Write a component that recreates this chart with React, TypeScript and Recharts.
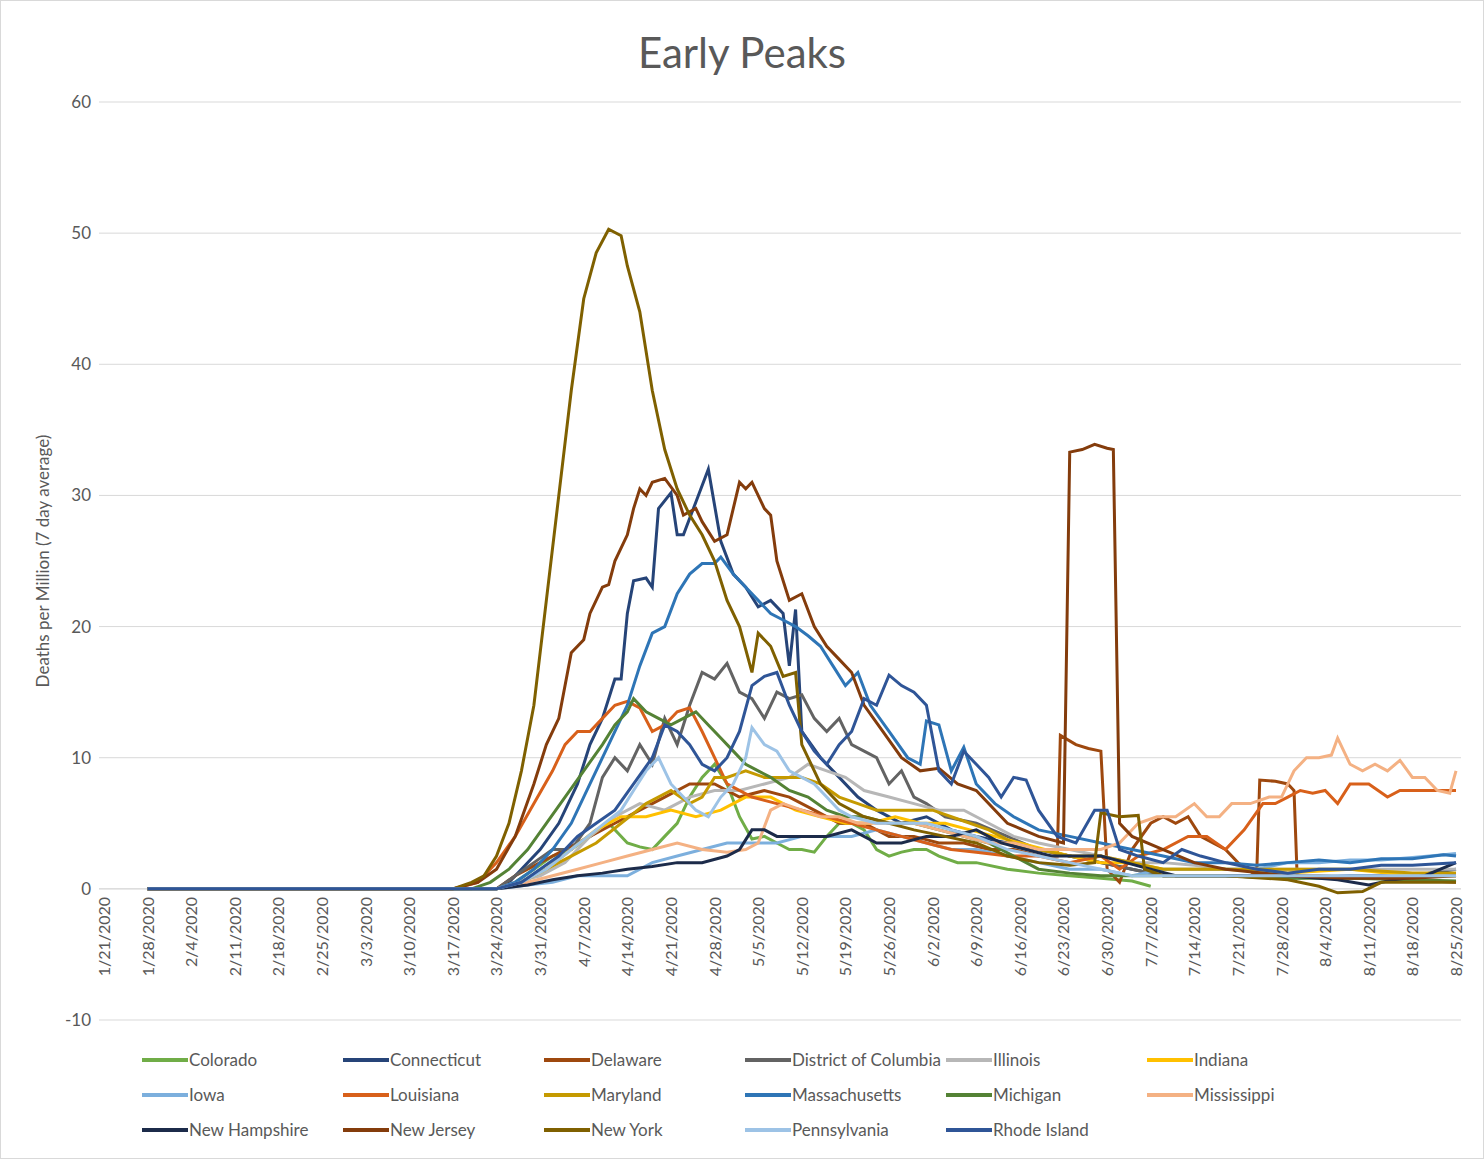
import React from "react";
import { LineChart, Line, XAxis, YAxis, CartesianGrid, ReferenceLine } from "recharts";

if (typeof document !== "undefined") document.body.style.margin = "0";

type P = [number, number];
const colorado: P[] = [[7,0],[63,0],[66,0.5],[69,1.5],[72,2.5],[75,3],[78,4],[81,5],[84,3.5],[86,3.2],[88,3],[90,4],[92,5],[94,7],[96,8.5],[98,9.5],[100,8],[102,5.5],[104,3.8],[106,4],[108,3.5],[110,3],[112,3],[114,2.8],[116,4],[118,5],[120,5],[122,4.5],[124,3],[126,2.5],[128,2.8],[130,3],[132,3],[134,2.5],[137,2],[140,2],[145,1.5],[150,1.2],[155,1],[160,0.8],[165,0.6],[168,0.2]];
const connecticut: P[] = [[7,0],[63,0],[65,0.5],[67,1.5],[70,3],[73,5],[76,8],[78,11],[80,13],[82,16],[83,16],[84,21],[85,23.5],[87,23.7],[88,23],[89,29],[91,30.2],[92,27],[93,27],[95,29.5],[97,32],[99,26.5],[101,24],[103,23],[105,21.5],[107,22],[109,21],[110,17],[111,21.3],[112,12],[115,10],[118,8.5],[121,7],[124,6],[128,5],[132,5.5],[136,4.5],[140,4],[145,3.5],[150,3],[155,2.5],[160,2],[165,1.5],[170,1],[180,1],[190,0.8],[200,1],[210,1],[217,1.5]];
const delaware: P[] = [[7,0],[63,0],[66,1],[70,2],[74,3],[78,4],[82,5],[86,6],[90,7],[94,8],[98,8],[102,7],[106,7.5],[110,7],[114,6],[118,5],[122,5],[126,4],[130,4],[134,3.5],[138,3.5],[142,3],[146,3],[150,2.5],[153,2.5],[153.5,11.7],[156,11],[158,10.7],[160,10.5],[161,1.5],[163,0.5],[165,3],[168,5],[170,5.5],[172,5],[174,5.5],[176,4],[178,3.5],[180,3],[182,2],[185,1],[185.5,8.3],[188,8.2],[190,8],[191,7.5],[191.5,1],[195,1],[205,0.8],[217,0.5]];
const dc: P[] = [[7,0],[63,0],[66,1],[69,2],[72,3],[75,3],[78,5],[80,8.5],[82,10],[84,9],[86,11],[88,9.5],[90,13],[92,11],[94,14],[96,16.5],[98,16],[100,17.2],[102,15],[104,14.5],[106,13],[108,15],[110,14.5],[112,14.8],[114,13],[116,12],[118,13],[120,11],[122,10.5],[124,10],[126,8],[128,9],[130,7],[132,6.5],[135,5.5],[140,5],[145,4],[150,3],[155,2.5],[160,2],[165,1.5],[170,1],[180,1],[190,1],[200,0.8],[210,1],[217,1]];
const illinois: P[] = [[7,0],[63,0],[66,0.5],[70,1],[74,2],[78,4],[82,5.5],[86,6.5],[90,6],[94,7],[98,7.5],[102,7.5],[106,8],[110,8.5],[113,9.5],[116,9],[119,8.5],[122,7.5],[126,7],[130,6.5],[134,6],[138,6],[142,5],[146,4],[150,3.5],[155,3],[160,2.5],[165,2],[170,2],[175,1.8],[180,1.5],[190,1.5],[200,1.5],[210,1.5],[217,1.5]];
const indiana: P[] = [[7,0],[63,0],[67,0.5],[71,1.5],[75,3],[79,4.5],[83,5.5],[87,5.5],[91,6],[95,5.5],[99,6],[103,7],[107,7],[111,6],[115,5.5],[119,5],[123,5],[127,5.5],[131,5],[135,5],[139,4.5],[143,4],[147,3.5],[151,3],[155,2.5],[160,2],[165,2],[170,1.5],[180,1.5],[190,1.2],[200,1.5],[210,1],[217,1]];
const iowa: P[] = [[7,0],[63,0],[68,0.3],[72,0.5],[76,1],[80,1],[84,1],[88,2],[92,2.5],[96,3],[100,3.5],[104,3.5],[108,3.5],[112,4],[116,4],[120,4],[124,4.5],[128,4],[132,3.5],[136,3],[140,3],[145,2.5],[150,2],[155,1.5],[160,1.5],[165,1],[170,1.5],[175,1.5],[180,1.5],[185,1.5],[190,2],[195,2],[200,2.2],[205,2.2],[210,2.4],[215,2.6],[217,2.7]];
const louisiana: P[] = [[7,0],[56,0],[60,0.5],[63,2],[66,4],[69,6.5],[72,9],[74,11],[76,12],[78,12],[80,13],[82,14],[84,14.3],[86,13.8],[88,12],[90,12.5],[92,13.5],[94,13.8],[96,12],[98,10],[100,8],[104,7],[108,6.5],[112,6],[116,5.5],[120,5],[124,4.5],[128,4],[132,3.5],[136,3],[140,2.8],[145,2.5],[150,2.5],[155,2],[160,2.5],[163,1.5],[166,2.5],[170,3],[174,4],[177,4],[180,3],[183,4.5],[186,6.5],[188,6.5],[190,7],[192,7.5],[194,7.3],[196,7.5],[198,6.5],[200,8],[203,8],[206,7],[208,7.5],[211,7.5],[214,7.5],[217,7.5]];
const maryland: P[] = [[7,0],[63,0],[67,0.5],[71,1.5],[75,2.5],[79,3.5],[83,5],[87,6.5],[91,7.5],[94,6.5],[96,7],[98,8.5],[100,8.5],[103,9],[106,8.5],[109,8.5],[112,8.5],[115,8],[118,7],[121,6.5],[124,6],[127,6],[130,6],[133,6],[136,5.5],[139,5],[142,4.5],[146,3.5],[150,3],[155,2.5],[160,2.5],[165,2],[170,1.5],[180,1.5],[190,1.5],[200,1.5],[210,1.2],[217,1.2]];
const massachusetts: P[] = [[7,0],[63,0],[66,0.5],[69,1.5],[72,3],[75,5],[78,8],[81,11],[84,14],[86,17],[88,19.5],[90,20],[92,22.5],[94,24],[96,24.8],[98,24.8],[99,25.3],[101,24],[103,23],[105,22],[107,21],[109,20.5],[111,20],[113,19.3],[115,18.5],[117,17],[119,15.5],[121,16.5],[123,14],[126,12],[129,10],[131,9.5],[132,12.8],[134,12.5],[136,9],[138,10.8],[140,8],[143,6.5],[146,5.5],[150,4.5],[155,4],[160,3.5],[165,3],[170,2.5],[175,2],[180,2],[185,1.8],[190,2],[195,2.2],[200,2],[205,2.3],[210,2.3],[215,2.6],[217,2.5]];
const michigan: P[] = [[7,0],[59,0],[62,0.5],[65,1.5],[68,3],[71,5],[74,7],[77,9],[80,11],[82,12.5],[84,13.5],[85,14.5],[87,13.5],[89,13],[91,12.5],[93,13],[95,13.5],[97,12.5],[99,11.5],[101,10.5],[103,9.5],[105,9],[107,8.5],[110,7.5],[113,7],[116,6],[119,5.5],[122,5.5],[126,5],[130,5],[134,4.5],[138,4],[142,3.5],[146,2.5],[150,1.5],[155,1.2],[160,1],[165,1],[170,1],[180,1],[190,0.8],[200,0.8],[210,0.7],[217,0.6]];
const mississippi: P[] = [[7,0],[63,0],[68,0.5],[72,1],[76,1.5],[80,2],[84,2.5],[88,3],[92,3.5],[96,3],[100,2.8],[103,3],[105,3.5],[107,6],[109,6.5],[112,6],[115,5.5],[118,5.5],[121,5],[125,5],[130,5],[134,4.5],[138,4],[142,3.5],[146,3.5],[150,3],[155,3],[160,3],[163,3.5],[166,5],[169,5.5],[172,5.5],[175,6.5],[177,5.5],[179,5.5],[181,6.5],[184,6.5],[187,7],[189,7],[191,9],[193,10],[195,10],[197,10.2],[198,11.5],[200,9.5],[202,9],[204,9.5],[206,9],[208,9.8],[210,8.5],[212,8.5],[214,7.5],[216,7.3],[217,9]];
const newHampshire: P[] = [[7,0],[63,0],[68,0.3],[72,0.7],[76,1],[80,1.2],[84,1.5],[88,1.7],[92,2],[96,2],[100,2.5],[102,3],[104,4.5],[106,4.5],[108,4],[112,4],[116,4],[120,4.5],[124,3.5],[128,3.5],[132,4],[136,4],[140,4.5],[144,3.5],[148,3],[152,2.5],[156,2.5],[160,2.5],[164,2],[168,1.5],[172,1],[180,1],[190,1],[198,0.7],[203,0.3],[207,0.7],[212,1],[217,2]];
const newJersey: P[] = [[7,0],[56,0],[60,0.5],[63,1.5],[66,4],[69,8],[71,11],[73,13],[75,18],[77,19],[78,21],[80,23],[81,23.2],[82,25],[84,27],[85,29],[86,30.5],[87,30],[88,31],[90,31.3],[92,30],[93,28.5],[95,29],[96,28],[98,26.5],[100,27],[102,31],[103,30.5],[104,31],[106,29],[107,28.5],[108,25],[110,22],[112,22.5],[114,20],[116,18.5],[118,17.5],[120,16.5],[122,14],[125,12],[128,10],[131,9],[134,9.2],[137,8],[140,7.5],[145,5],[150,4],[154,3.5],[155,33.3],[157,33.5],[159,33.9],[161,33.6],[162,33.5],[163,5],[165,4],[170,3],[175,2],[180,1.5],[190,1],[200,0.8],[210,0.8],[217,1]];
const newYork: P[] = [[7,0],[56,0],[59,0.5],[61,1],[63,2.5],[65,5],[67,9],[69,14],[71,22],[73,30],[75,38],[77,45],[79,48.5],[81,50.3],[83,49.8],[84,47.5],[86,44],[88,38],[90,33.5],[92,30.5],[94,28.5],[96,27],[98,25],[100,22],[102,20],[104,16.5],[105,19.5],[107,18.5],[109,16.2],[111,16.5],[112,11],[115,8],[118,6.5],[122,5.5],[126,5],[130,4.5],[135,4],[140,3.5],[145,2.5],[150,2],[155,1.8],[159,2],[160,5.8],[163,5.5],[166,5.6],[167,1.5],[170,1],[180,1],[190,0.7],[195,0.2],[198,-0.3],[202,-0.2],[205,0.5],[217,0.5]];
const pennsylvania: P[] = [[7,0],[63,0],[67,0.5],[71,1.5],[75,3],[79,4.5],[83,6],[85,7.5],[87,9],[89,10],[91,8],[93,7],[95,6],[97,5.5],[99,7],[101,8],[103,10],[104,12.3],[106,11],[108,10.5],[110,9],[112,8.5],[114,8],[116,7],[118,6],[120,5.5],[124,5],[128,5],[132,5],[136,4.5],[140,4],[145,3],[150,2.5],[155,2],[160,1.5],[165,1],[170,1],[180,1],[190,1],[200,1],[210,1],[217,1]];
const rhodeIsland: P[] = [[7,0],[63,0],[67,0.5],[70,1.5],[73,2.5],[76,4],[79,5],[82,6],[85,8],[88,10],[90,12.5],[92,12],[94,11],[96,9.5],[98,9],[100,10],[102,12],[104,15.5],[106,16.2],[108,16.5],[110,14],[112,12],[114,10.5],[116,9.5],[118,11],[120,12],[122,14.5],[124,14],[126,16.3],[128,15.5],[130,15],[132,14],[134,9],[136,8],[138,10.5],[140,9.5],[142,8.5],[144,7],[146,8.5],[148,8.3],[150,6],[153,4],[156,3.5],[159,6],[161,6],[163,3],[166,2.5],[170,2],[173,3],[176,2.5],[180,2],[185,1.5],[190,1.2],[195,1.5],[200,1.5],[205,1.8],[210,1.8],[217,2]];

const series: { name: string; color: string; pts: P[] }[] = [
  { name: "Colorado", color: "#70ad47", pts: colorado },
  { name: "Connecticut", color: "#264478", pts: connecticut },
  { name: "Delaware", color: "#9e480e", pts: delaware },
  { name: "District of Columbia", color: "#636363", pts: dc },
  { name: "Illinois", color: "#b7b7b7", pts: illinois },
  { name: "Indiana", color: "#ffc000", pts: indiana },
  { name: "Iowa", color: "#7cafdd", pts: iowa },
  { name: "Louisiana", color: "#d8601a", pts: louisiana },
  { name: "Maryland", color: "#c59a00", pts: maryland },
  { name: "Massachusetts", color: "#2e75b6", pts: massachusetts },
  { name: "Michigan", color: "#548235", pts: michigan },
  { name: "Mississippi", color: "#f4b183", pts: mississippi },
  { name: "New Hampshire", color: "#1c2b4a", pts: newHampshire },
  { name: "New Jersey", color: "#843c0c", pts: newJersey },
  { name: "New York", color: "#7f6000", pts: newYork },
  { name: "Pennsylvania", color: "#9dc3e6", pts: pennsylvania },
  { name: "Rhode Island", color: "#2f5597", pts: rhodeIsland },
];

const dayTicks: number[] = [];
for (let d = 0; d <= 217; d += 7) dayTicks.push(d);
const yTicks = [-10, 0, 10, 20, 30, 40, 50, 60];

const start = Date.UTC(2020, 0, 21);
const fmt = (d: number) => {
  const dt = new Date(start + d * 86400000);
  return `${dt.getUTCMonth() + 1}/${dt.getUTCDate()}/${dt.getUTCFullYear()}`;
};

const FONT = "Lato, 'Open Sans', sans-serif";
const PLOT_TOP = 101;
const PLOT_H = 918;

const XTick = (props: any) => {
  const { x, payload } = props;
  const yy = PLOT_TOP + (PLOT_H * 6) / 7 + 8;
  return (
    <text x={x + 6} y={yy} transform={`rotate(-90 ${x + 6} ${yy})`} textAnchor="end" fill="#595959" fontSize={16} fontFamily={FONT}>
      {fmt(payload.value)}
    </text>
  );
};

export default function App() {
  return (
    <div style={{ width: 1482, height: 1157, border: "1px solid #d9d9d9", position: "relative", background: "#fff" }}>
      <div style={{ position: "absolute", top: 26, width: "100%", textAlign: "center", fontFamily: FONT, fontSize: 42, color: "#595959" }}>
        Early Peaks
      </div>
      <LineChart width={1482} height={1157} margin={{ top: PLOT_TOP, right: 22, bottom: 8, left: 20 }}>
        <CartesianGrid horizontal vertical={false} stroke="#d9d9d9" />
        <XAxis type="number" dataKey="x" domain={[-0.8, 217.8]} ticks={dayTicks} tick={<XTick />} tickLine={false} axisLine={false} height={1157 - PLOT_TOP - PLOT_H - 8} interval={0} allowDataOverflow />
        <YAxis type="number" domain={[-10, 60]} ticks={yTicks} width={78} tickLine={false} axisLine={false}
          tick={{ fill: "#595959", fontSize: 17, fontFamily: FONT }}
          label={{ value: "Deaths per Million (7 day average)", angle: -90, position: "insideLeft", offset: 22, style: { fill: "#595959", fontSize: 17, fontFamily: FONT, textAnchor: "middle" } }} />
        <ReferenceLine y={0} stroke="#d9d9d9" />
        {series.map((s) => (
          <Line key={s.name} data={s.pts.map(([x, v]) => ({ x, v }))} dataKey="v" name={s.name} stroke={s.color} strokeWidth={3} dot={false} isAnimationActive={false} type="linear" />
        ))}
      </LineChart>
      <div style={{ position: "absolute", top: 1047, left: 141, display: "grid", gridTemplateColumns: "repeat(6, 201px)", rowGap: 12, fontFamily: FONT, fontSize: 17, color: "#595959" }}>
        {series.map((s) => (
          <div key={s.name} style={{ display: "flex", alignItems: "center", height: 23, whiteSpace: "nowrap" }}>
            <span style={{ display: "inline-block", width: 46, height: 4, background: s.color, marginRight: 1 }} />
            {s.name}
          </div>
        ))}
      </div>
    </div>
  );
}
